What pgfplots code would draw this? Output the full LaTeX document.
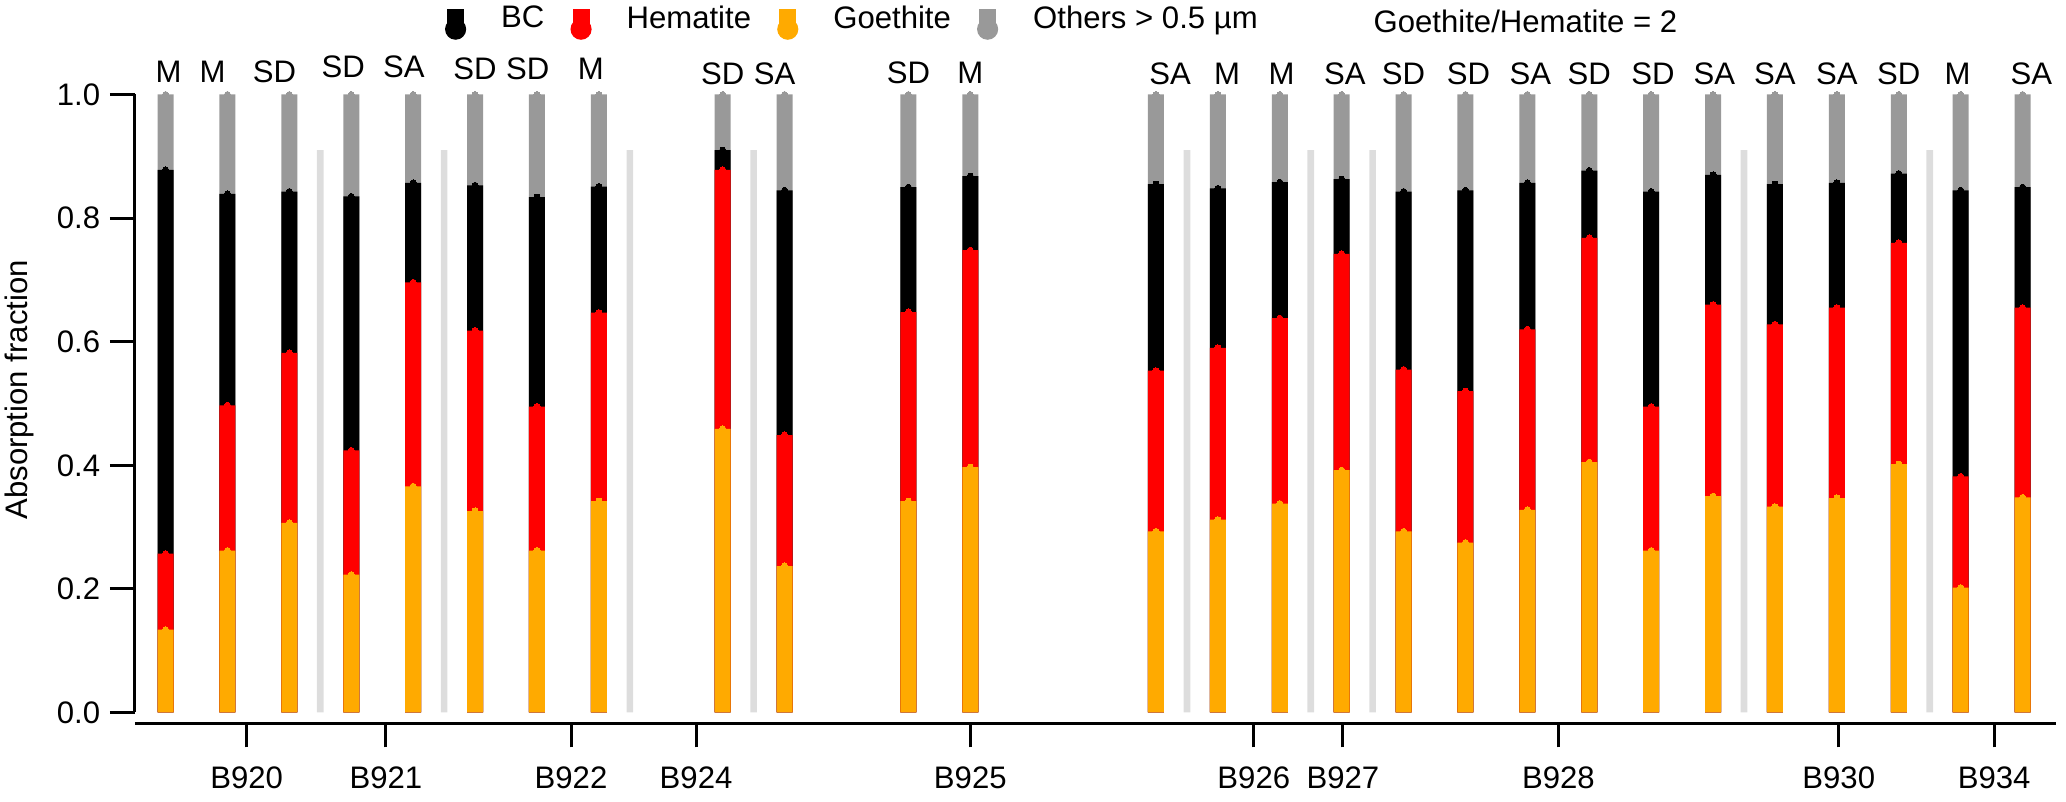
\documentclass[border=0pt]{standalone}
\usepackage{fontspec}
\setmainfont{Liberation Sans}
\usepackage{pgfplots}
\usepackage{pgfplotstable}
\pgfplotsset{compat=1.18}
\definecolor{cgoe}{HTML}{FFAA00}
\definecolor{chem}{HTML}{FF0000}
\definecolor{coth}{HTML}{999999}
\definecolor{csep}{HTML}{DDDDDD}
\newcommand\ff{\fontsize{11.2}{13.4}\selectfont}

% cumulative tops of each segment (Goethite, +Hematite, +BC, +Others)
\pgfplotstableread{
x  goe   hem   bc    oth
0  0.134 0.257 0.878 1
1  0.262 0.497 0.839 1
2  0.307 0.582 0.843 1
3  0.223 0.424 0.835 1
4  0.366 0.696 0.857 1
5  0.326 0.618 0.853 1
6  0.262 0.495 0.834 1
7  0.342 0.647 0.851 1
9  0.459 0.878 0.910 1
10 0.237 0.449 0.845 1
12 0.342 0.648 0.850 1
13 0.397 0.748 0.868 1
16 0.293 0.553 0.855 1
17 0.312 0.590 0.848 1
18 0.338 0.638 0.858 1
19 0.392 0.742 0.863 1
20 0.293 0.555 0.843 1
21 0.275 0.520 0.845 1
22 0.328 0.620 0.857 1
23 0.405 0.768 0.877 1
24 0.262 0.495 0.843 1
25 0.350 0.660 0.870 1
26 0.333 0.628 0.855 1
27 0.347 0.655 0.857 1
28 0.402 0.760 0.872 1
29 0.202 0.382 0.845 1
30 0.348 0.655 0.850 1
}\bars

\pgfplotstableread{
x    y
2.5  0.91
4.5  0.91
7.5  0.91
9.5  0.91
16.5 0.91
18.5 0.91
19.5 0.91
25.5 0.91
28.5 0.91
}\seps

\pgfplotstableread{
x     y      lab
0.05  1.0202 M
0.76  1.0202 M
1.76  1.0202 SD
2.87  1.0283 SD
3.85  1.0283 SA
5.00  1.0235 SD
5.85  1.0235 SD
6.87  1.0235 M
9.00  1.0154 SD
9.84  1.0154 SA
12.00 1.0170 SD
13.00 1.0170 M
16.23 1.0154 SA
17.15 1.0154 M
18.03 1.0154 M
19.05 1.0154 SA
20.00 1.0154 SD
21.05 1.0154 SD
22.05 1.0154 SA
23.00 1.0154 SD
24.03 1.0154 SD
25.02 1.0154 SA
26.00 1.0154 SA
27.00 1.0154 SA
28.00 1.0154 SD
28.95 1.0154 M
30.14 1.0154 SA
}\labs

\pgfplotsset{
  segbar/.style={forget plot, ybar, bar width=5.76pt, bar shift=0pt,
    color=#1, fill=#1, draw=none,
    mark=*, mark size=1.1pt, mark options={color=#1, fill=#1, line width=0pt}},
}

\begin{document}
\begin{tikzpicture}
\begin{axis}[
  at={(0pt,0pt)}, anchor=south west,
  scale only axis, width=691.56pt, height=222.48pt,
  xmin=-0.494, xmax=30.54, ymin=0, ymax=1,
  clip=false,
  axis y line*=left, axis x line=none,
  xtick=\empty,
  y axis line style={-, line width=1.08pt},
  ytick={0,0.2,0.4,0.6,0.8,1},
  /pgf/number format/assume math mode=true,
  yticklabel style={/pgf/number format/.cd, fixed, fixed zerofill, precision=1},
  ticklabel style={font=\ff},
  tick align=outside, major tick length=9pt,
  tick style={black, line width=1.08pt},
  ylabel={Absorption fraction},
  every axis y label/.style={at={(axis description cs:-0.0599,0.522)}, rotate=90, anchor=center, font=\ff},
  legend columns=-1,
  legend cell align=left,
  legend style={draw=none, fill=none, inner sep=0pt, outer sep=0pt,
    at={(axis description cs:0.1614,1.1160)}, anchor=west, font=\ff,
    nodes={inner sep=0pt},
    /tikz/every odd column/.append style={column sep=12.6pt},
    /tikz/every even column/.append style={column sep=9.4pt}},
]
\addlegendimage{legend image code/.code={\fill[black] (3.6pt,-3.6pt) circle[radius=3.6pt]; \fill[black] (0.72pt,-3.6pt) rectangle (6.48pt,3.6pt);}}
\addlegendentry{BC}
\addlegendimage{legend image code/.code={\fill[chem] (3.6pt,-3.6pt) circle[radius=3.6pt]; \fill[chem] (0.72pt,-3.6pt) rectangle (6.48pt,3.6pt);}}
\addlegendentry{Hematite}
\addlegendimage{legend image code/.code={\fill[cgoe] (3.6pt,-3.6pt) circle[radius=3.6pt]; \fill[cgoe] (0.72pt,-3.6pt) rectangle (6.48pt,3.6pt);}}
\addlegendentry{Goethite}
\addlegendimage{legend image code/.code={\fill[coth] (3.6pt,-3.6pt) circle[radius=3.6pt]; \fill[coth] (0.72pt,-3.6pt) rectangle (6.48pt,3.6pt);}}
\addlegendentry{Others > 0.5 µm}

% separators
\addplot[forget plot, ybar, bar width=2.4pt, bar shift=0pt, color=csep, fill=csep, draw=none, mark=none] table[x=x,y=y]{\seps};
% bars drawn tallest first (cumulative tops)
\addplot[segbar=coth]  table[x=x,y=oth]{\bars};
\addplot[segbar=black] table[x=x,y=bc]{\bars};
\addplot[segbar=chem]  table[x=x,y=hem]{\bars};
\addplot[segbar=cgoe]  table[x=x,y=goe]{\bars};
% sample-type labels above bars
\addplot[forget plot, draw=none, mark=none, nodes near coords, point meta=explicit symbolic,
  every node near coord/.append style={anchor=base, inner sep=0pt, font=\ff, text=black}]
  table[x=x,y=y,meta=lab]{\labs};
\node[anchor=base west, font=\ff, inner sep=0pt] at (axis description cs:0.6445,1.0998) {Goethite/Hematite = 2};
\end{axis}

\begin{axis}[
  at={(0pt,-3.89pt)}, anchor=south west,
  scale only axis, width=691.56pt, height=20pt,
  xmin=-0.494, xmax=30.54, ymin=0, ymax=1,
  axis x line*=bottom, axis y line=none,
  x axis line style={-, line width=1.08pt},
  xtick={1.31,3.56,6.55,8.57,13,17.58,19.02,22.5,27.03,29.54},
  xticklabels={B920,B921,B922,B924,B925,B926,B927,B928,B930,B934},
  tick align=outside, major tick length=8.64pt,
  tick style={black, line width=1.08pt},
  xticklabel style={font=\ff, yshift=-3.5pt},
]
\addplot[forget plot, draw=none, mark=none] coordinates {(0,0.5)};
\end{axis}
\pgfresetboundingbox
\useasboundingbox (-48.6pt,-32.22pt) rectangle (695.16pt,256.5pt);
\end{tikzpicture}
\end{document}
